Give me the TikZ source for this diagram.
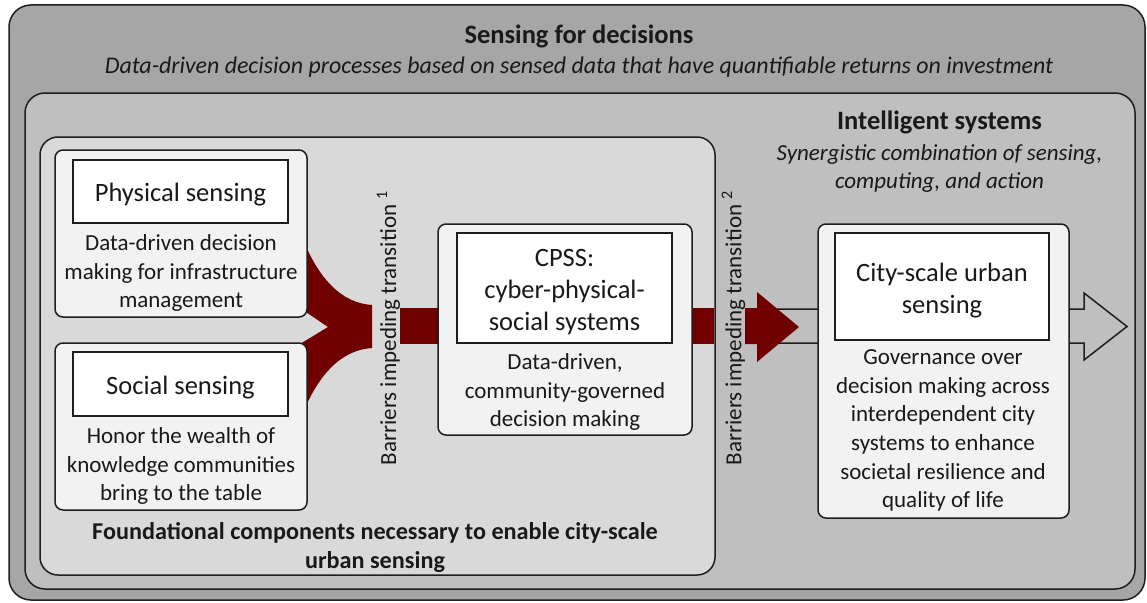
\documentclass[tikz,border=0pt]{standalone}
\usepackage{fontspec}
\setmainfont{Carlito}
\definecolor{gA}{RGB}{166,166,166}
\definecolor{gB}{RGB}{191,191,191}
\definecolor{gC}{RGB}{217,217,217}
\definecolor{gD}{RGB}{242,242,242}
\definecolor{dred}{RGB}{112,0,0}
\definecolor{edge}{RGB}{30,30,30}
\newcommand\bodyf{\fontsize{23}{28.6}\selectfont}
\newcommand\headf{\fontsize{26.5}{32}\selectfont}
\begin{document}
\begin{tikzpicture}[x=1pt,y=-1pt,
  panel/.style={draw=edge, line width=1.5pt, inner sep=0pt, outer sep=0pt},
  card/.style={panel, fill=gD, rounded corners=8pt},
  label/.style={panel, fill=white},
  txt/.style={inner sep=0pt, align=center, font=\bodyf, text=black!90},
  head/.style={inner sep=0pt, align=center, font=\headf, text=black!90},
  redfill/.style={fill=dred, draw=none}]
\useasboundingbox (0,0) rectangle (1147,602);
% nested containers
\node[panel, fill=gA, rounded corners=22pt, minimum width=1136pt, minimum height=595pt] (outer) at (577,302.5) {};
\node[panel, fill=gB, rounded corners=20pt, minimum width=1110pt, minimum height=496pt] (intel) at (580,341) {};
% hollow arrow behind the city box
\draw[edge, line width=1.5pt, fill=gB] (765,309) -- (1084,309) -- (1084,293) -- (1127,326.5) -- (1084,360) -- (1084,343) -- (765,343) -- cycle;
\node[panel, fill=gC, rounded corners=18pt, minimum width=675pt, minimum height=438pt] (found) at (377.5,356) {};
% merging red arrow
\fill[redfill] (300,232) .. controls (318,280) and (342,303) .. (372,305) -- (372,348)
  .. controls (342,350) and (318,373) .. (300,420) -- (300,344) -- (328,327) -- (300,308) -- cycle;
\fill[redfill] (400,308) rectangle (438,344);
\fill[redfill] (692,308) rectangle (714.3,344);
\fill[redfill] (745,308) -- (757,308) -- (757,292) -- (799,327) -- (757,362) -- (757,344) -- (745,344) -- cycle;
% cards
\node[card, minimum width=252pt, minimum height=167pt] (phys) at (181,233.5) {};
\node[label, minimum width=215pt, minimum height=63pt] (physl) at (180.5,191.5) {};
\node[card, minimum width=252pt, minimum height=167pt] (soc) at (181,426.5) {};
\node[label, minimum width=215pt, minimum height=64pt] (socl) at (180.5,384) {};
\node[card, minimum width=254pt, minimum height=211pt] (cpss) at (565,329.5) {};
\node[label, minimum width=215pt, minimum height=110pt] (cpssl) at (564.5,288) {};
\node[card, minimum width=251pt, minimum height=294pt] (city) at (943.5,371) {};
\node[label, minimum width=214pt, minimum height=107pt] (cityl) at (942,286.5) {};
% texts
\node[head, font=\headf\bfseries] (t1) at (579,36) {Sensing for decisions};
\node[txt, font=\fontsize{23.9}{28.6}\selectfont\itshape] (t2) at (579,67.5) {Data-driven decision processes based on sensed data that have quantifiable returns on investment};
\node[head, font=\headf\bfseries] (t3) at (939.5,122.5) {Intelligent systems};
\node[txt, font=\bodyf\itshape] (t4) at (939.5,154.5) {Synergistic combination of sensing,};
\node[txt, font=\bodyf\itshape] (t5) at (939.5,182.5) {computing, and action};
\node[head] (pt) at (180.5,194.5) {Physical sensing};
\node[txt] (pd) at (181,273) {Data-driven decision\\making for infrastructure\\management};
\node[head] (st) at (180.5,387.5) {Social sensing};
\node[txt] (sd) at (181,466) {Honor the wealth of\\knowledge communities\\bring to the table};
\node[head] (ct) at (564.5,292.5) {CPSS:\\cyber-physical-\\social systems};
\node[txt] (cd) at (565,392) {Data-driven,\\community-governed\\decision making};
\node[head] (yt) at (942,290.5) {City-scale urban\\sensing};
\node[txt] (yd) at (943,430.5) {Governance over\\decision making across\\interdependent city\\systems to enhance\\societal resilience and\\quality of life};
\node[txt, font=\fontsize{24.2}{29}\selectfont\bfseries] (ft) at (375,547.5) {Foundational components necessary to enable city-scale\\urban sensing};
\node[txt, rotate=90] (b1) at (388.5,328) {Barriers impeding transition \textsuperscript{1}};
\node[txt, rotate=90] (b2) at (733.5,328) {Barriers impeding transition \textsuperscript{2}};
\end{tikzpicture}
\end{document}
